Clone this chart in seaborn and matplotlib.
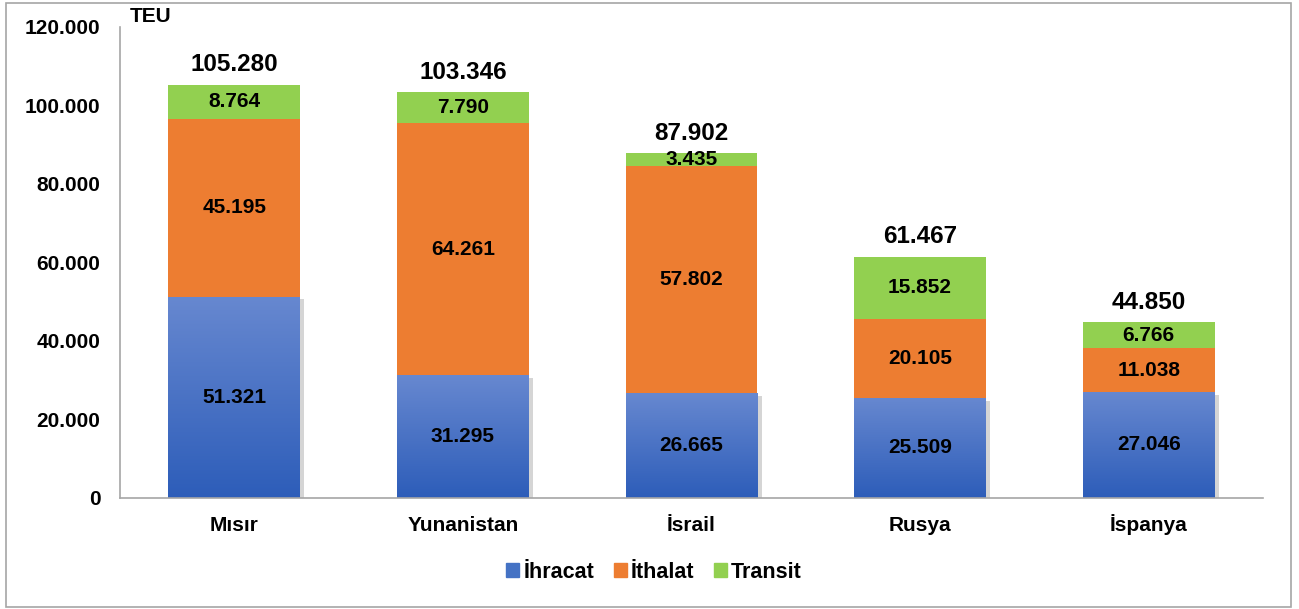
import numpy as np
import pandas as pd
import matplotlib
matplotlib.use('Agg')
import matplotlib.pyplot as plt
import matplotlib.patheffects as pe
from matplotlib.patches import Rectangle, Patch
from matplotlib.colors import LinearSegmentedColormap
import seaborn as sns

#------------------------------------------
countries=['Mısır', 'Yunanistan', 'İsrail', 'Rusya', 'İspanya']
ihracat=[51321, 31295, 26665, 25509, 27046]
ithalat=[45195, 64261, 57802, 20105, 11038]
transit=[8764, 7790, 3435, 15852, 6766]
totals=[105280, 103346, 87902, 61467, 44850]

c_blue='#4472C4'
c_orange='#ED7D31'
c_green='#92D050'

def fmt(v):
    return f'{v:,.0f}'.replace(',', '.')

#------------------------------------------
df=pd.DataFrame({'country': countries, 'ihracat': ihracat,
                 'ithalat': ithalat, 'transit': transit})
df['lvl2']=df['ihracat']+df['ithalat']
df['lvl3']=df['lvl2']+df['transit']

sns.set_style('white')
plt.rcParams['font.family']=['Liberation Sans', 'DejaVu Sans']
plt.rcParams['font.weight']='bold'
plt.rcParams['text.color']='black'
plt.rcParams['xtick.color']='black'
plt.rcParams['ytick.color']='black'

fig=plt.figure(figsize=(12.99, 6.09), dpi=100)
ax=fig.add_axes([0.0924, 0.1823, 0.9723-0.0924, 0.9557-0.1823])

w=0.577
sns.barplot(data=df, x='country', y='lvl3', color=c_green, width=w,
            saturation=1, linewidth=0, ax=ax, zorder=2)
sns.barplot(data=df, x='country', y='lvl2', color=c_orange, width=w,
            saturation=1, linewidth=0, ax=ax, zorder=2)
sns.barplot(data=df, x='country', y='ihracat', color=c_blue, width=w,
            saturation=1, linewidth=0, ax=ax, zorder=2)

# gradient + shadow on the blue segments
cmap=LinearSegmentedColormap.from_list('bl', ['#2D5DB9', '#6788D0'])
for p in ax.containers[2]:
    x0, y0=p.get_x(), p.get_y()
    x1, y1=x0+p.get_width(), y0+p.get_height()
    p.set_path_effects([pe.SimplePatchShadow(offset=(3, -2), shadow_rgbFace='#888888', alpha=0.35),
                        pe.Normal()])
    grad=np.linspace(0, 1, 256).reshape(-1, 1)
    im=ax.imshow(grad, cmap=cmap, origin='lower', aspect='auto',
                 extent=(x0, x1, y0, y1), zorder=2.5)
    im.set_clip_path(p)

ax.set_xlim(-0.5, 4.5)
ax.set_ylim(0, 120000)
ax.set_yticks(range(0, 120001, 20000))
ax.set_yticklabels([fmt(v) for v in range(0, 120001, 20000)])
ax.set_xlabel('')
ax.set_ylabel('')
ax.tick_params(axis='y', length=0, pad=14, labelsize=15)
ax.tick_params(axis='x', length=0, pad=24, labelsize=15)
for lab in ax.get_xticklabels()+ax.get_yticklabels():
    lab.set_fontweight('bold')
for lab in ax.get_xticklabels():
    lab.set_verticalalignment('baseline')

for s in ['top', 'right']:
    ax.spines[s].set_visible(False)
for s in ['left', 'bottom']:
    ax.spines[s].set_color('#A6A6A6')
    ax.spines[s].set_linewidth(1.2)

# segment labels
for i in range(len(countries)):
    ax.text(i, ihracat[i]/2, fmt(ihracat[i]), ha='center', va='center',
            fontsize=15, fontweight='bold', zorder=5)
    ax.text(i, ihracat[i]+ithalat[i]/2, fmt(ithalat[i]), ha='center', va='center',
            fontsize=15, fontweight='bold', zorder=5)
    ax.text(i, df['lvl2'][i]+transit[i]/2, fmt(transit[i]), ha='center', va='center',
            fontsize=15, fontweight='bold', zorder=5)
    ax.annotate(fmt(totals[i]), (i, df['lvl3'][i]), xytext=(0, 6),
                textcoords='offset points', ha='center', va='bottom',
                fontsize=17.5, fontweight='bold', zorder=5)

fig.text(130/1299, 1-17/609, 'TEU', ha='left', va='center', fontsize=15, fontweight='bold')

# legend
handles=[Patch(color=c_blue, label='İhracat'), Patch(color=c_orange, label='İthalat'),
         Patch(color=c_green, label='Transit')]
fig.legend(handles=handles, loc='center', bbox_to_anchor=(654/1299, 1-572/609),
           ncol=3, frameon=False, prop={'size': 15.5, 'weight': 'bold'},
           handlelength=0.6, handleheight=0.6, handletextpad=0.2, columnspacing=0.9)

# outer border
fig.patches.append(Rectangle((6/1299, 2/609), 1285/1299, 604/609, transform=fig.transFigure,
                             fill=False, edgecolor='#A6A6A6', linewidth=1.2))

plt.savefig('out.png', dpi=100)
plt.close()
